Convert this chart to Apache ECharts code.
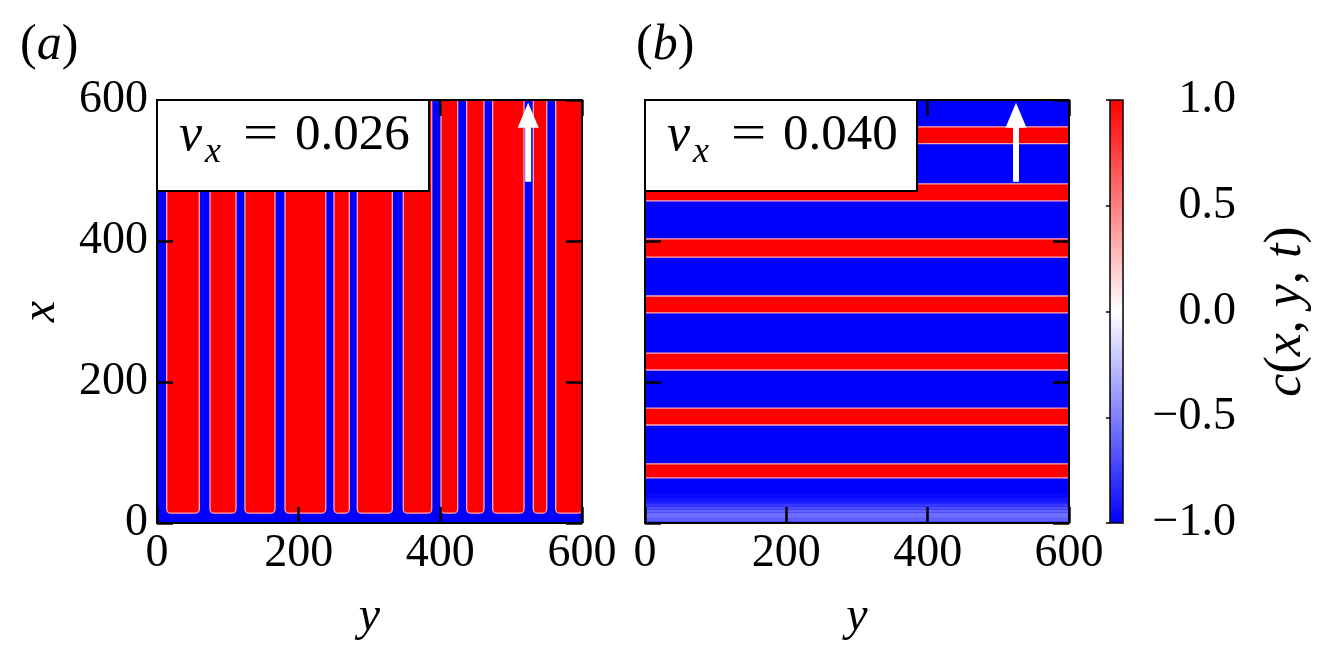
<!DOCTYPE html>
<html><head><meta charset="utf-8">
<script src="https://cdn.jsdelivr.net/npm/echarts@6/dist/echarts.min.js"></script>
<style>html,body{margin:0;padding:0;background:#fff}#c{width:1318px;height:658px}</style>
</head><body><div id="c"></div>
<script>
// ---------------- data ----------------
const axisTicks = [0, 200, 400, 600];
const colorbarTicks = [-1.0, -0.5, 0.0, 0.5, 1.0];
// Panel (a): blue (c=-1) stripes across y, as [yStart, yEnd]; the rest is red (c=+1)
const stripesA = [[0,13.7],[59.7,74.8],[111.5,124.2],[166.6,180.7],[238.2,249.9],[271.5,282.8],
                  [332.2,347.7],[387.8,401],[424.5,437.2],[461.6,473.9],[518.1,531.3],[550.2,562.9]];
const bottomLayerA = 14;          // blue layer along x = 0
const velocityA = '0.026';
// Panel (b): red (c=+1) stripes across x, as [xStart, xEnd]; the rest is blue (c=-1)
const stripesB = [[64,84],[139,163],[217,241],[298,322],[377,403],[457,481],[538,562]];
// Panel (b): profile of c near x = 0, as [xStart, xEnd, c]
const bottomProfileB = [[0,2,-0.68],[2,6,-0.62],[6,10,-0.58],[10,15,-0.56],[15,19,-0.61],[19,23,-0.69],
                        [23,27,-0.78],[27,31,-0.86],[31,36,-0.92],[36,42,-0.97]];
const velocityB = '0.040';
// Arrows: [y, x tail, x tip]
const arrowA = [524, 484, 596];
const arrowB = [525, 484, 596];

// ---------------- build series data ----------------
const bgA = [[0, 600, 0, 600, -1]];
const redA = stripesA.map((s, i) => [s[1], i + 1 < stripesA.length ? stripesA[i + 1][0] : 600, bottomLayerA, 600, 1]);
const bgB = [[0, 600, 0, 600, -1]];
const gradB = bottomProfileB.map(p => [0, 600, p[0], p[1], p[2]]);
const redB = stripesB.map(s => [0, 600, s[0], s[1], 1]);

const serif = "'Liberation Serif', 'DejaVu Serif', serif";

function rectRenderer(radius, stroke, lw) {
  return function (params, api) {
    const p0 = api.coord([api.value(0), api.value(3)]);
    const p1 = api.coord([api.value(1), api.value(2)]);
    return {
      type: 'rect',
      shape: { x: p0[0], y: p0[1], width: p1[0] - p0[0], height: p1[1] - p0[1], r: radius },
      style: { fill: api.visual('color'), stroke: stroke, lineWidth: lw }
    };
  };
}
function arrowRenderer(params, api) {
  const tail = api.coord([api.value(0), api.value(1)]);
  const tip = api.coord([api.value(0), api.value(2)]);
  const headLen = 25, headHalf = 10.5, shaftHalf = 3;
  return {
    type: 'group', children: [
      { type: 'rect', shape: { x: tail[0] - shaftHalf, y: tip[1] + headLen - 1, width: 2 * shaftHalf, height: tail[1] - tip[1] - headLen + 1 }, style: { fill: '#fff' } },
      { type: 'polygon', shape: { points: [[tip[0], tip[1]], [tip[0] - headHalf, tip[1] + headLen], [tip[0] + headHalf, tip[1] + headLen]] }, style: { fill: '#fff' } }
    ]
  };
}
// axisIdx: index of the bottom x axis / left y axis of the panel
function custom(data, axisIdx, renderItem, z) {
  return { type: 'custom', xAxisIndex: axisIdx, yAxisIndex: axisIdx, data: data, renderItem: renderItem, z: z || 2, silent: true, animation: false };
}

const tickStyle = { show: true, inside: true, length: 16, lineStyle: { color: '#000', width: 2.5 } };
const lineStyle = { show: true, onZero: false, lineStyle: { color: '#000', width: 2 } };
function valAxis(gridIndex, position, withLabels, extra) {
  return Object.assign({
    type: 'value', gridIndex: gridIndex, position: position, min: axisTicks[0], max: axisTicks[axisTicks.length - 1],
    interval: axisTicks[1] - axisTicks[0], z: 10,
    axisLine: lineStyle, axisTick: tickStyle, splitLine: { show: false },
    axisLabel: { show: withLabels, fontFamily: serif, fontSize: 46, color: '#000',
      margin: (position === 'bottom' ? 8 : 9) }
  }, extra || {});
}
const nameStyle = { fontFamily: serif, fontSize: 48, fontStyle: 'italic', color: '#000' };

function boxTexts(left, value) {
  return [
    { type: 'rect', shape: { x: left, y: 100, width: 272, height: 91 }, style: { fill: '#fff', stroke: '#000', lineWidth: 2 }, z: 20 },
    { type: 'text', x: left + 22, y: 136, z: 21, style: { text: 'v', fontFamily: serif, fontSize: 52, fontStyle: 'italic', fill: '#000', align: 'left', verticalAlign: 'middle' } },
    { type: 'text', x: left + 48, y: 153, z: 21, style: { text: 'x', fontFamily: serif, fontSize: 36, fontStyle: 'italic', fill: '#000', align: 'left', verticalAlign: 'middle' } },
    { type: 'text', x: left + 86, y: 136, z: 21, scaleX: 1.25,
      style: { text: '=', fontFamily: serif, fontSize: 50, fill: '#000', align: 'left', verticalAlign: 'middle' } },
    { type: 'text', x: left + 138, y: 136, z: 21, style: { text: value, fontFamily: serif, fontSize: 51, fill: '#000', align: 'left', verticalAlign: 'middle' } }
  ];
}

const chart = echarts.init(document.getElementById('c'), null, { renderer: 'canvas' });
chart.setOption({
  animation: false,
  backgroundColor: '#fff',
  grid: [
    { left: 157, top: 100, width: 425, height: 423 },
    { left: 645, top: 100, width: 424, height: 423 },
    { left: 1110, top: 100, width: 13, height: 423 }
  ],
  xAxis: [
    valAxis(0, 'bottom', true, { name: 'y', nameLocation: 'middle', nameGap: 70, nameTextStyle: nameStyle }),
    valAxis(0, 'top', false),
    valAxis(1, 'bottom', true, { name: 'y', nameLocation: 'middle', nameGap: 70, nameTextStyle: nameStyle }),
    valAxis(1, 'top', false),
    { type: 'value', gridIndex: 2, min: 0, max: 1, show: false }
  ],
  yAxis: [
    valAxis(0, 'left', true, { name: 'x', nameLocation: 'middle', nameRotate: 90, nameGap: 92, nameTextStyle: nameStyle }),
    valAxis(0, 'right', false),
    valAxis(1, 'left', false),
    valAxis(1, 'right', false),
    { type: 'value', gridIndex: 2, position: 'right', min: colorbarTicks[0], max: colorbarTicks[colorbarTicks.length - 1],
      interval: colorbarTicks[1] - colorbarTicks[0], z: 10,
      axisLine: { show: false },
      axisTick: { show: true, inside: true, length: 4, lineStyle: { color: '#000', width: 1.5 } },
      splitLine: { show: false },
      axisLabel: { fontFamily: serif, fontSize: 46, color: '#000', align: 'right', margin: 113,
        formatter: v => (v < 0 ? '\u2212' : '') + Math.abs(v).toFixed(1) },
      name: '{i|c}({i|x}, {i|y}, {i|t})', nameLocation: 'middle', nameRotate: 90, nameGap: 137,
      nameTextStyle: { fontFamily: serif, fontSize: 52, fontStyle: 'normal', color: '#000',
        rich: { i: { fontFamily: serif, fontSize: 52, fontStyle: 'italic', color: '#000' } } }
    }
  ],
  visualMap: {
    type: 'continuous', min: -1, max: 1, dimension: 4, seriesIndex: [0, 1, 2, 3, 4],
    inRange: { color: ['#0000ff', '#ffffff', '#ff0000'] },
    orient: 'vertical', left: 1110, top: 100, itemWidth: 13, itemHeight: 423,
    calculable: false, padding: 0, hoverLink: false, z: 4
  },
  series: [
    custom(bgA, 0, rectRenderer(0, null, 0)),
    custom(redA, 0, rectRenderer([0, 0, 4, 4], '#ffa6b4', 1.3)),
    custom(bgB, 2, rectRenderer(0, null, 0)),
    custom(gradB, 2, rectRenderer(0, null, 0)),
    custom(redB, 2, rectRenderer(0, '#ffa6b4', 1.3)),
    custom([arrowA], 0, arrowRenderer, 5),
    custom([arrowB], 2, arrowRenderer, 5)
  ],
  graphic: [].concat(
    boxTexts(157, velocityA),
    boxTexts(645, velocityB),
    [
      { type: 'text', x: 20, y: 46, z: 21, style: { text: '{n|(}{i|a}{n|)}', fill: '#000', align: 'left', verticalAlign: 'middle',
        rich: { n: { fontFamily: serif, fontSize: 50 }, i: { fontFamily: serif, fontSize: 50, fontStyle: 'italic' } } } },
      { type: 'text', x: 636, y: 46, z: 21, style: { text: '{n|(}{i|b}{n|)}', fill: '#000', align: 'left', verticalAlign: 'middle',
        rich: { n: { fontFamily: serif, fontSize: 50 }, i: { fontFamily: serif, fontSize: 50, fontStyle: 'italic' } } } },
      { type: 'rect', shape: { x: 1110, y: 100, width: 13, height: 423 }, style: { fill: 'none', stroke: '#000', lineWidth: 1.5 }, z: 20 }
    ]
  )
});
</script></body></html>
